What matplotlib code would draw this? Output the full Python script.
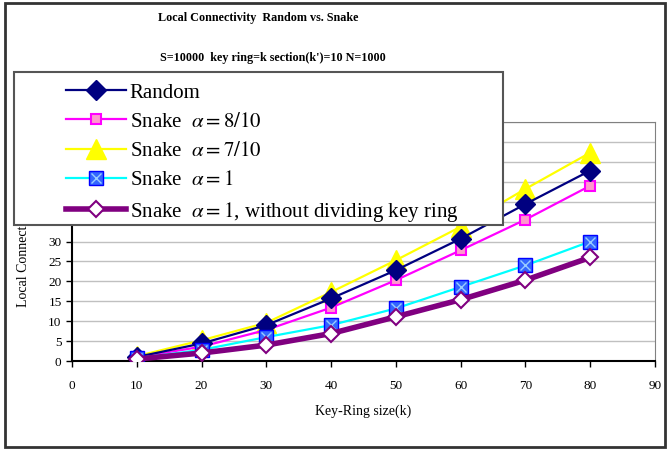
import matplotlib
matplotlib.use("Agg")
import matplotlib.pyplot as plt
from matplotlib.patches import Rectangle
from matplotlib.legend_handler import HandlerTuple

plt.rcParams['font.family'] = ['Liberation Serif', 'DejaVu Serif']
plt.rcParams['mathtext.fontset'] = 'stix'

k = [10, 20, 30, 40, 50, 60, 70, 80]
random_vals = [1.0, 4.4, 9.0, 15.7, 22.8, 30.7, 39.4, 47.8]
snake_08 = [0.9, 3.6, 7.8, 13.4, 20.3, 27.8, 35.5, 44.0]
snake_07 = [1.2, 5.2, 9.6, 17.3, 25.3, 33.7, 43.2, 52.3]
snake_1 = [0.7, 2.8, 6.0, 9.0, 13.2, 18.6, 24.0, 30.0]
snake_1_nodiv = [0.5, 2.0, 4.0, 6.9, 11.1, 15.4, 20.3, 26.0]

labels = ["Random",
          r"Snake  $\alpha = 8/10$",
          r"Snake  $\alpha = 7/10$",
          r"Snake  $\alpha = 1$",
          r"Snake  $\alpha = 1$, without dividing key ring"]
xticks = list(range(0, 100, 10))
yticks = list(range(0, 65, 5))

fig = plt.figure(figsize=(6.7, 4.59), dpi=100)
ax = fig.add_axes([72/670, 1-361/459, 583/670, 239/459])

h1, = ax.plot(k, random_vals, color='#000080', lw=1.6, marker='D', ms=10,
              mfc='#000080', mec='#000080', zorder=4)
h2, = ax.plot(k, snake_08, color='#FF00FF', lw=1.6, marker='s', ms=7,
              mfc='#FF99CC', mec='#FF00FF', mew=1.5, zorder=3)
h3, = ax.plot(k, snake_07, color='#FFFF00', lw=1.6, marker='^', ms=14,
              mfc='#FFFF00', mec='#FFFF00', zorder=2)
h4a, = ax.plot(k, snake_1, color='#00FFFF', lw=1.6, marker='s', ms=10,
               mfc='#3366FF', mec='#0000FF', zorder=5)
h4b, = ax.plot(k, snake_1, lw=0, marker='x', ms=7, mec='#99CCFF',
               mew=1.0, zorder=5.1)
h5, = ax.plot(k, snake_1_nodiv, color='#800080', lw=4, marker='D', ms=8,
              mfc='white', mec='#800080', mew=1.5, zorder=6)

ax.set_xlim(0, 90)
ax.set_ylim(0, 60)
ax.set_xticks(xticks)
ax.set_yticks(yticks)
ax.tick_params(labelsize=9.5, direction='out', length=4, width=1)
ax.tick_params(axis='x', pad=10)
ax.yaxis.grid(True, color='#C0C0C0', lw=1)
ax.set_axisbelow(True)
for s in ['top', 'right']:
    ax.spines[s].set_color('#808080')
for s in ['left', 'bottom']:
    ax.spines[s].set_color('black')
    ax.spines[s].set_linewidth(1.5)
ax.set_xlabel("Key-Ring size(k)", fontsize=10)
ax.set_ylabel("Local Connectivity", fontsize=10)
ax.xaxis.labelpad = 9
ax.yaxis.set_label_coords(-0.072, 0.45)

fig.text(0.5*(162+354)/670, 1-18/459, "Local Connectivity  Random vs. Snake",
         fontsize=8.7, fontweight='bold', ha='center', va='center')
fig.text(0.5*(178+367)/670, 1-58/459, "S=10000  key ring=k section(k')=10 N=1000",
         fontsize=8.7, fontweight='bold', ha='center', va='center')

# outer frame
fig.patches.append(Rectangle((5/670, 1-447/459), 660/670, 444/459,
                             transform=fig.transFigure, fill=False,
                             ec='#333333', lw=2))
# legend frame
fig.patches.append(Rectangle((14/670, 1-225/459), 489/670, 153/459,
                             transform=fig.transFigure, fc='white',
                             ec='#555555', lw=1.5, zorder=10))

leg = fig.legend([h1, h2, h3, (h4a, h4b), h5], labels,
                 handler_map={tuple: HandlerTuple(ndivide=1, pad=0)},
                 loc='upper left', bbox_to_anchor=(66/670, 1-83/459),
                 frameon=False, fontsize=15, handlelength=2.9,
                 handletextpad=0.15, labelspacing=0.46, borderpad=0,
                 borderaxespad=0)
leg.set_zorder(11)

fig.savefig("out.png", dpi=100)
